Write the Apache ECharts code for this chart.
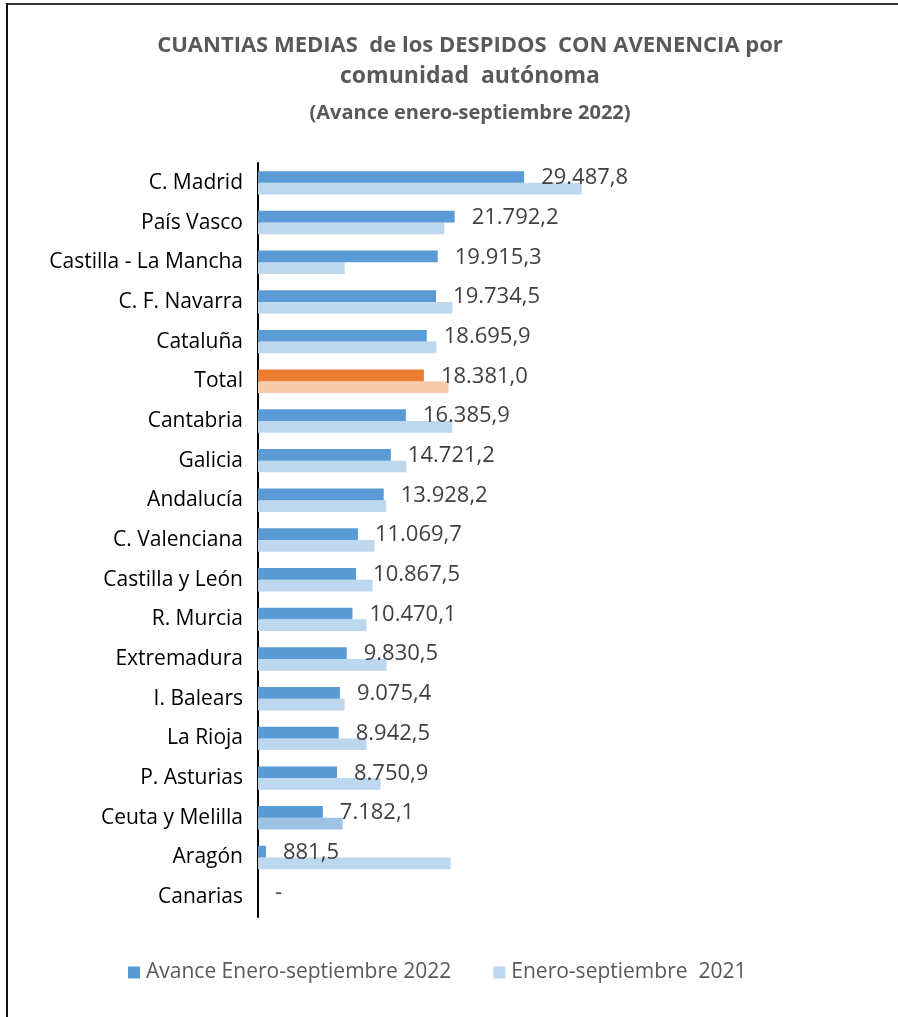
<!DOCTYPE html>
<html>
<head>
<meta charset="utf-8">
<script src="https://cdn.jsdelivr.net/npm/echarts@6/dist/echarts.min.js"></script>
<style>
html,body{margin:0;padding:0;background:#fff;}
#chart{width:898px;height:1017px;}
</style>
</head>
<body>
<div id="chart"></div>
<script>
const categories = ["C. Madrid","País Vasco","Castilla - La Mancha","C. F. Navarra","Cataluña","Total","Cantabria","Galicia","Andalucía","C. Valenciana","Castilla y León","R. Murcia","Extremadura","I. Balears","La Rioja","P. Asturias","Ceuta y Melilla","Aragón","Canarias"];
const values2022 = [29487.8,21792.2,19915.3,19734.5,18695.9,18381.0,16385.9,14721.2,13928.2,11069.7,10867.5,10470.1,9830.5,9075.4,8942.5,8750.9,7182.1,881.5,0];
const values2021 = [35870,20640,9600,21540,19770,21110,21520,16430,14210,12920,12700,12030,14250,9600,12030,13580,9380,21330,0];
const seriesNames = ["Avance Enero-septiembre 2022","Enero-septiembre  2021"];

function fmtES(v){
  if(!v) return '-';
  const parts = v.toFixed(1).split('.');
  const intPart = parts[0].replace(/\B(?=(\d{3})+(?!\d))/g,'.');
  return intPart + ',' + parts[1];
}

const FONT = 'Open Sans';
const chart = echarts.init(document.getElementById('chart'));
const d2022 = values2022.map((v,i)=> categories[i]==='Total' ? {value:v,itemStyle:{color:'#ED7D31'}} : v);
const d2021 = values2021.map((v,i)=> categories[i]==='Total' ? {value:v,itemStyle:{color:'#F8CBAD'}} : (categories[i]==='Ceuta y Melilla' ? {value:v,itemStyle:{color:'#9DC3E6'}} : v));

chart.setOption({
  animation:false,
  backgroundColor:'#fff',
  textStyle:{fontFamily:FONT},
  title:[{
    text:'{a|CUANTIAS MEDIAS  de los DESPIDOS  CON AVENENCIA por}\n{b|comunidad  autónoma}',
    left:465, top:26, textAlign:'center',
    textStyle:{
      rich:{
        a:{fontFamily:FONT,fontWeight:'bold',fontSize:22,color:'#595959',lineHeight:30},
        b:{fontFamily:FONT,fontWeight:'bold',fontSize:23,color:'#595959',lineHeight:30}
      }
    }
  },{
    text:'(Avance enero-septiembre 2022)',
    left:465, top:98, textAlign:'center',
    textStyle:{fontFamily:FONT,fontWeight:'bold',fontSize:20,color:'#595959',lineHeight:20}
  }],
  graphic:[
    {type:'line',shape:{x1:6,y1:4,x2:898,y2:4},style:{stroke:'#333',lineWidth:2},silent:true},
    {type:'line',shape:{x1:7,y1:3,x2:7,y2:1017},style:{stroke:'#111',lineWidth:2},silent:true}
  ],
  legend:{
    left:128, top:962, padding:0, itemWidth:12, itemHeight:12, itemGap:42,
    icon:'rect',
    textStyle:{fontFamily:FONT,fontSize:21,color:'#595959',padding:[0,0,0,1]},
    data:seriesNames
  },
  grid:{left:258, top:163, width:361, height:754, containLabel:false},
  xAxis:{type:'value',min:0,max:40000,show:false},
  yAxis:{
    type:'category', data:categories, inverse:true,
    axisLine:{show:true,lineStyle:{color:'#000',width:2}},
    axisTick:{show:false},
    axisLabel:{fontFamily:FONT,fontSize:21,color:'#000',margin:15}
  },
  series:[{
    name:seriesNames[0], type:'bar', data:d2022, barWidth:11.7, barGap:'0%',
    itemStyle:{color:'#5B9BD5'},
    label:{show:true,position:'right',distance:17,offset:[0,1],
      fontFamily:FONT,fontSize:22,color:'#404040',
      formatter:p=>fmtES(p.value)},
    z:3
  },{
    name:seriesNames[1], type:'bar', data:d2021, barWidth:11.7, barGap:'0%',
    itemStyle:{color:'#BDD7EE'}, z:2
  }]
});
</script>
</body>
</html>
